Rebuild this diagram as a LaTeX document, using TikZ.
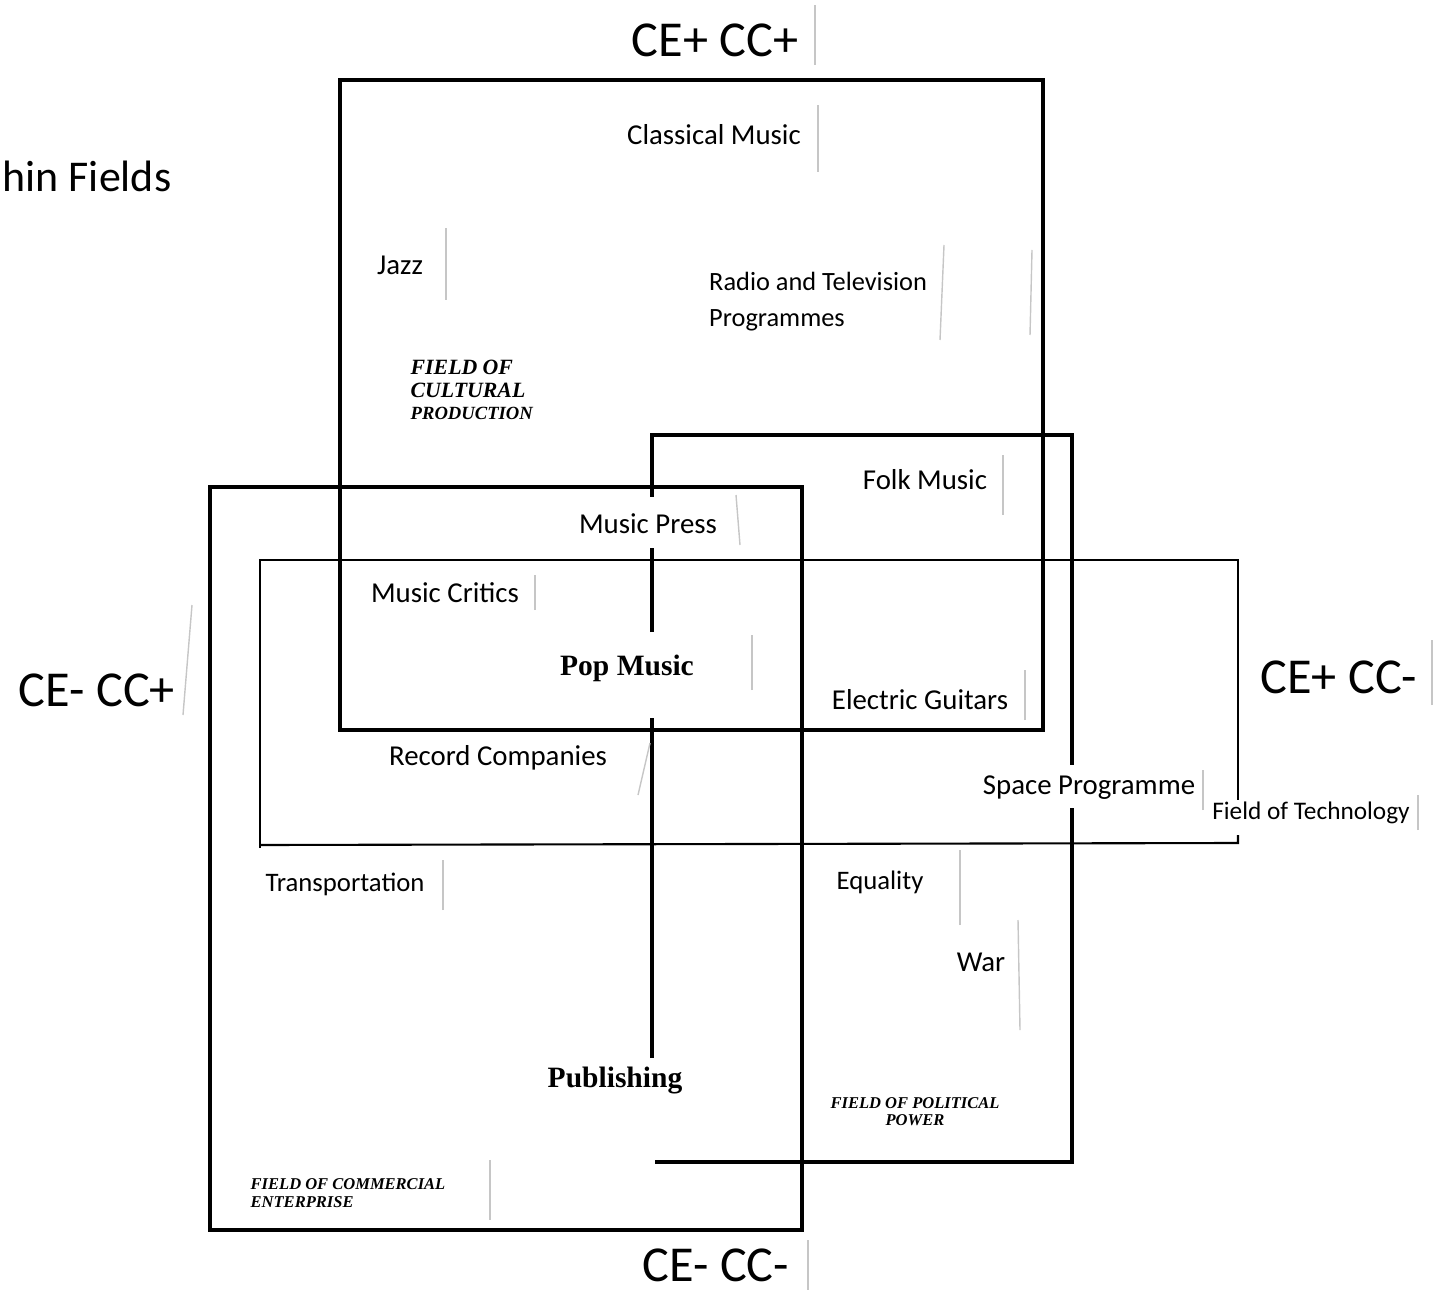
\documentclass[tikz,border=0pt]{standalone}
\usepackage{fontspec}
\setmainfont{Carlito}
\newfontfamily\timesfont{Liberation Serif}
\usetikzlibrary{positioning}

\begin{document}
\begin{tikzpicture}[x=0.1mm,y=-0.1mm,
    field/.style={line width=1pt},
    techline/.style={line width=0.6pt},
    boxedge/.style={gray!45,line width=0.4pt},
    lbl/.style={font=\fontsize{8.2}{10}\selectfont,inner sep=1pt},
    small lbl/.style={font=\fontsize{7.6}{10}\selectfont,inner sep=1pt},
    quad/.style={font=\fontsize{14.3}{17}\selectfont,inner sep=1pt},
    bold serif/.style={font=\timesfont\bfseries\fontsize{8.4}{10}\selectfont,inner sep=1pt},
    caption/.style={font=\timesfont\bfseries\itshape\fontsize{4.7}{4.9}\selectfont,inner sep=0pt}]
  \useasboundingbox (0,0) rectangle (1434,1290);

  % the four fields
  \draw[field] (340,80) rectangle (1043,730);
  \draw[field] (210,487) rectangle (802,1230);
  \draw[techline] (260,848) -- (260,560) -- (1238,560) -- (1238,800);
  \draw[techline] (260,845) -- (1238,843) -- (1238,835);
  \draw[field] (652,1058) -- (652,718) (652,632) -- (652,548)
    (652,497) -- (652,435) -- (1072,435) -- (1072,765)
    (1072,808) -- (1072,1162) -- (655,1162);

  % faint edges of the pasted text boxes
  \foreach \xa/\ya/\xb/\yb in {815/5/815/65, 818/105/818/172, 446/228/446/300,
      940/245/944/340, 1030/250/1032/335, 1003/455/1003/515, 740/495/736/545,
      535/575/535/610, 752/635/752/690, 1025/670/1025/720, 638/743/650/795,
      1203/770/1203/810, 1418/795/1418/830, 443/860/443/910, 960/850/960/925,
      1020/920/1018/1030, 490/1160/490/1220, 808/1240/808/1290,
      1432/640/1432/705, 183/605/192/715}
    \draw[boxedge] (\xa,\yb) -- (\xb,\ya);

  % quadrant labels
  \node[quad] (qtop) at (715,40) {CE+ CC+};
  \node[quad] (qleft) at (97,690) {CE- CC+};
  \node[quad] (qright) at (1339,677) {CE+ CC-};
  \node[quad] (qbottom) at (716,1265) {CE- CC-};
  \node[font=\fontsize{12.5}{15}\selectfont,inner sep=0pt,anchor=west] (title) at (2,176) {hin Fields};

  % field names
  \node[caption,font=\timesfont\bfseries\itshape\fontsize{6.2}{6.3}\selectfont,align=left,anchor=west]
    (cultfield) at (410,390) {FIELD OF\\CULTURAL\\{\fontsize{5.3}{6.3}\selectfont PRODUCTION}};
  \node[caption,align=left,anchor=west] (commfield) at (250,1193) {FIELD OF COMMERCIAL\\ENTERPRISE};
  \node[caption,align=center] (polfield) at (915,1112) {FIELD OF POLITICAL\\POWER};
  \node[small lbl,font=\fontsize{7.2}{10}\selectfont] (techfield) at (1311,813) {Field of Technology};

  % items
  \node[lbl] (classical) at (714,135) {Classical Music};
  \node[lbl] (jazz) at (400,265) {Jazz};
  \node[small lbl,font=\fontsize{7.5}{10.2}\selectfont,align=left,anchor=west] (radio) at (705,302)
    {Radio and Television\\Programmes};
  \node[lbl] (folk) at (925,480) {Folk Music};
  \node[lbl] (press) at (648,524) {Music Press};
  \node[lbl] (critics) at (445,593) {Music Critics};
  \node[bold serif] (pop) at (627,668) {Pop Music};
  \node[lbl] (guitars) at (920,700) {Electric Guitars};
  \node[lbl] (records) at (498,758) {Record Companies};
  \node[lbl] (space) at (1089,788) {Space Programme};
  \node[small lbl] (transport) at (345,884) {Transportation};
  \node[small lbl] (equality) at (880,882) {Equality};
  \node[lbl] (war) at (981,962) {War};
  \node[bold serif] (publishing) at (615,1081) {Publishing};
\end{tikzpicture}
\end{document}
